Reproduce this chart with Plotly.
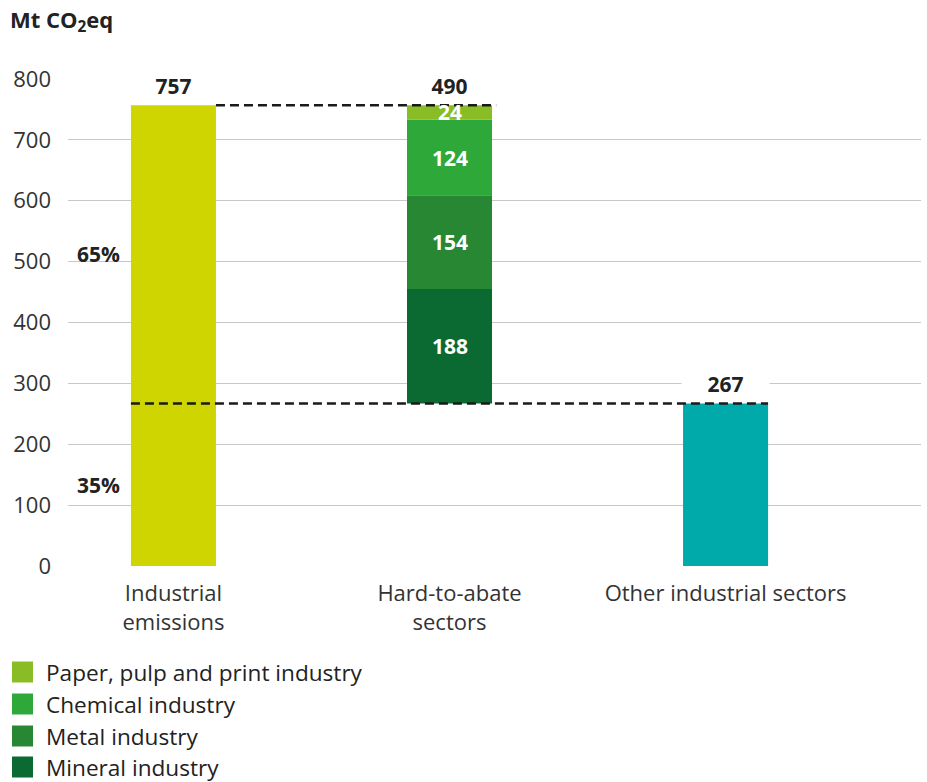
import plotly.graph_objects as go

# ---------------- data ----------------
categories = ["Industrial<br>emissions", "Hard-to-abate<br>sectors", "Other industrial sectors"]
industrial_total = 757
other_sectors = 267
hard_names = ["Mineral industry", "Metal industry", "Chemical industry", "Paper, pulp and print industry"]
hard_values = [188, 154, 124, 24]
hard_total = 490
share_labels = ["65%", "35%"]
y_ticks = [0, 100, 200, 300, 400, 500, 600, 700, 800]

# ---------------- style ----------------
FONT = "Open Sans"
DARK = "#222222"
TXT = "#333333"
hard_colors = ["#0A6A31", "#288733", "#2FA83A", "#8ABD25"]
industrial_color = "#CED500"
other_color = "#00AAAA"
BW = 0.308  # bar width in category units
FS = 22

W, H = 927, 782
L, R, T, B = 68, 6, 79, 216
PW, PH = W - L - R, H - T - B

def xp(px):
    return (px - L) / PW

def yp(py):
    return (H - B - py) / PH

fig = go.Figure()

fig.add_trace(go.Bar(x=[0], y=[industrial_total], width=BW, marker_color=industrial_color,
                     marker_line_width=0, showlegend=False, hoverinfo="y"))

base = other_sectors
for name, val, col in zip(hard_names, hard_values, hard_colors):
    fig.add_trace(go.Bar(x=[1], y=[val], base=[base], width=BW, name=name,
                         marker_color=col, marker_line_width=0, showlegend=False))
    fig.add_annotation(x=1, y=base + val / 2, xref="x", yref="y", text=f"<b>{val}</b>",
                       showarrow=False, yanchor="middle",
                       font=dict(family=FONT, size=21, color="white"))
    base += val

fig.add_trace(go.Bar(x=[2], y=[other_sectors], width=BW, marker_color=other_color,
                     marker_line_width=0, showlegend=False))

# dashed connectors
dash_style = dict(color="#1A1A1A", width=2.5, dash="9px,5px")
fig.add_shape(type="line", xref="x", yref="y", x0=0 + BW / 2, x1=1 + BW / 2 + 0.015,
              y0=industrial_total, y1=industrial_total, line=dash_style)
fig.add_shape(type="line", xref="x", yref="y", x0=0 - BW / 2, x1=2 + BW / 2,
              y0=other_sectors, y1=other_sectors, line=dash_style)

# totals above bars
for xv, yv, txt in [(0, industrial_total, industrial_total), (1, industrial_total, hard_total),
                    (2, other_sectors, other_sectors)]:
    fig.add_annotation(x=xv, y=yv, xref="x", yref="y", text=f"<b>{txt}</b>",
                       showarrow=False, yanchor="bottom", yshift=3, width=85,
                       bgcolor="white", font=dict(family=FONT, size=21, color=DARK))

# share labels
share_y = [(other_sectors + industrial_total) / 2, other_sectors / 2]
for lab, yv in zip(share_labels, share_y):
    fig.add_annotation(x=0 - BW / 2, y=yv, xref="x", yref="y", text=f"<b>{lab}</b>",
                       showarrow=False, xanchor="right", xshift=-9,
                       font=dict(family=FONT, size=21, color=DARK))

# manual legend (top item = last stacked segment)
leg_rows = [672, 704, 736, 767]
for i, (name, col) in enumerate(zip(hard_names[::-1], hard_colors[::-1])):
    cy = leg_rows[i]
    fig.add_shape(type="rect", xref="paper", yref="paper",
                  x0=xp(12), x1=xp(33), y0=yp(cy - 10.5), y1=yp(cy + 10.5),
                  fillcolor=col, line_width=0)
    fig.add_annotation(xref="paper", yref="paper", x=xp(45), y=yp(cy), text=name,
                       showarrow=False, xanchor="left", yanchor="middle", borderpad=0,
                       font=dict(family=FONT, size=22.6, color=DARK))

fig.update_layout(
    width=W, height=H,
    margin=dict(l=L, r=R, t=T, b=B),
    paper_bgcolor="white", plot_bgcolor="white",
    barmode="overlay",
    showlegend=False,
    title=dict(text="<b>Mt CO<sub>2</sub>eq</b>", xref="container", yref="container",
               x=10 / W, xanchor="left", y=1 - 20 / H, yanchor="middle",
               font=dict(family=FONT, size=22, color=DARK)),
    font=dict(family=FONT, size=FS, color=TXT),
)

fig.update_xaxes(range=[-0.382, 2.708], tickvals=[0, 1, 2], ticktext=categories,
                 showgrid=False, zeroline=False, showline=False,
                 ticks="", ticklabelstandoff=12,
                 tickfont=dict(family=FONT, size=FS, color=TXT))
fig.update_yaxes(range=[0, 800], tickvals=y_ticks, showgrid=True, gridcolor="#C8C8C8",
                 gridwidth=1, zeroline=False, showline=False, ticks="",
                 ticklabelstandoff=16,
                 tickfont=dict(family=FONT, size=FS, color=TXT))

fig.write_html("out.html")
